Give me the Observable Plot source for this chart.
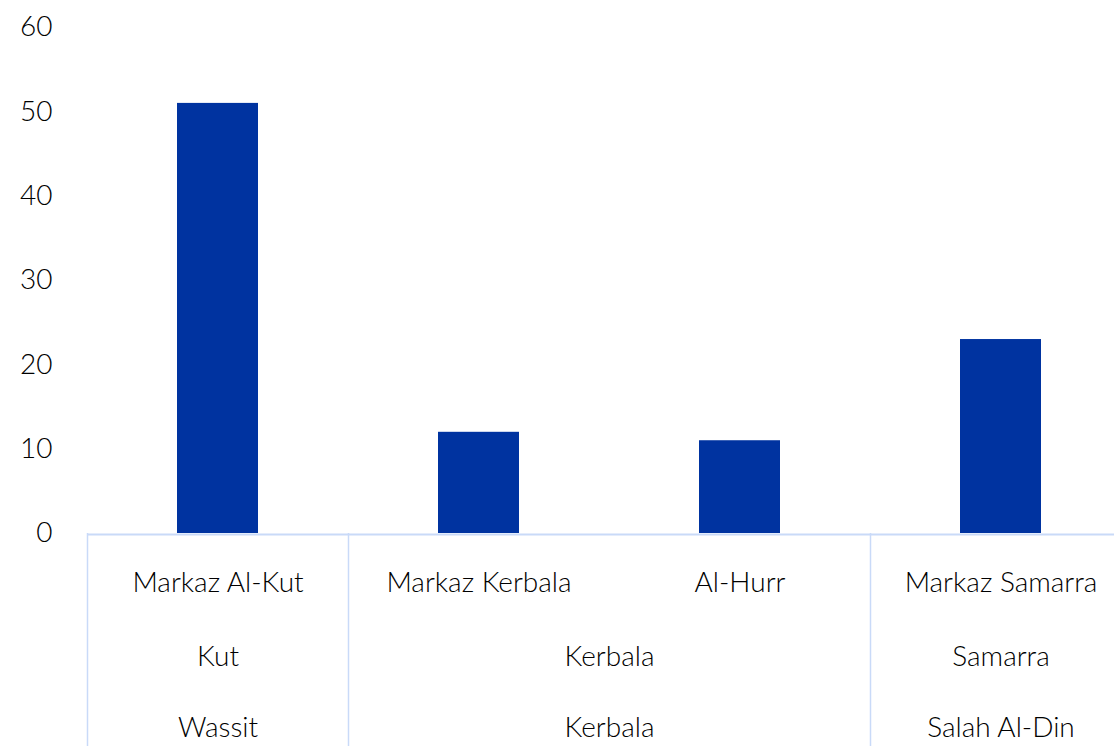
<!DOCTYPE html>
<html>
<head>
<meta charset="utf-8">
<script src="https://cdn.jsdelivr.net/npm/d3@7"></script>
<script src="https://cdn.jsdelivr.net/npm/@observablehq/plot@0.6"></script>
<style>
  html, body { margin: 0; padding: 0; background: #fff; }
  #chart svg { display: block; }
</style>
</head>
<body>
<div id="chart"></div>
<script>
const categories = ["Markaz Al-Kut", "Markaz Kerbala", "Al-Hurr", "Markaz Samarra"];
const values = [51, 12, 11, 23];
const districts = ["Kut", "Kerbala", "Kerbala", "Samarra"];
const governorates = ["Wassit", "Kerbala", "Kerbala", "Salah Al-Din"];
const yTicks = [0, 10, 20, 30, 40, 50, 60];

const barColor = "#0033a0";
const sepColor = "#c9daf8";
const textColor = "#000";
const font = "Lato, 'Gill Sans', sans-serif";
const fs = 28;

const rows = categories.map((c, i) => ({category: c, value: values[i]}));

// group consecutive runs of a level
function runs(labels) {
  const out = [];
  labels.forEach((l, i) => {
    const last = out[out.length - 1];
    if (last && last.label === l) last.count++;
    else out.push({label: l, first: categories[i], count: 1});
  });
  return out;
}
const distGroups = runs(districts);
const govGroups = runs(governorates);

const xRange = [87, 1131];
const step = (xRange[1] - xRange[0]) / categories.length;

function groupText(groups, dy) {
  return groups.map(g => Plot.text([g], {
    x: "first", y: 0, text: "label", dy, dx: (g.count - 1) * step / 2,
    fontSize: fs, fontWeight: 300, fill: textColor
  }));
}

const chart = Plot.plot({
  width: 1114,
  height: 746,
  marginTop: 27,
  marginBottom: 213,
  marginLeft: 87,
  marginRight: 0,
  style: {fontFamily: font, fontSize: fs + "px", fontWeight: 300, color: textColor, background: "#fff", overflow: "hidden"},
  x: {domain: categories, range: xRange, paddingInner: 0.69, paddingOuter: 0.345, axis: null},
  y: {domain: [0, 60], ticks: yTicks, label: null},
  marks: [
    Plot.axisY({ticks: yTicks, tickSize: 0, tickPadding: 35, label: null, fontSize: fs, fontWeight: 300, fill: textColor}),
    Plot.barY(rows, {x: "category", y: "value", fill: barColor}),
    Plot.ruleY([0], {stroke: sepColor, strokeWidth: 2, dy: 1}),
    Plot.ruleX(govGroups, {x: "first", y1: 0, y2: -25.5, stroke: sepColor, strokeWidth: 1.5, dx: -step / 2}),
    Plot.text(rows, {x: "category", y: 0, text: "category", dy: 50, fontSize: fs, fontWeight: 300, fill: textColor}),
    ...groupText(distGroups, 124),
    ...groupText(govGroups, 195)
  ]
});
document.getElementById("chart").appendChild(chart);
</script>
</body>
</html>
